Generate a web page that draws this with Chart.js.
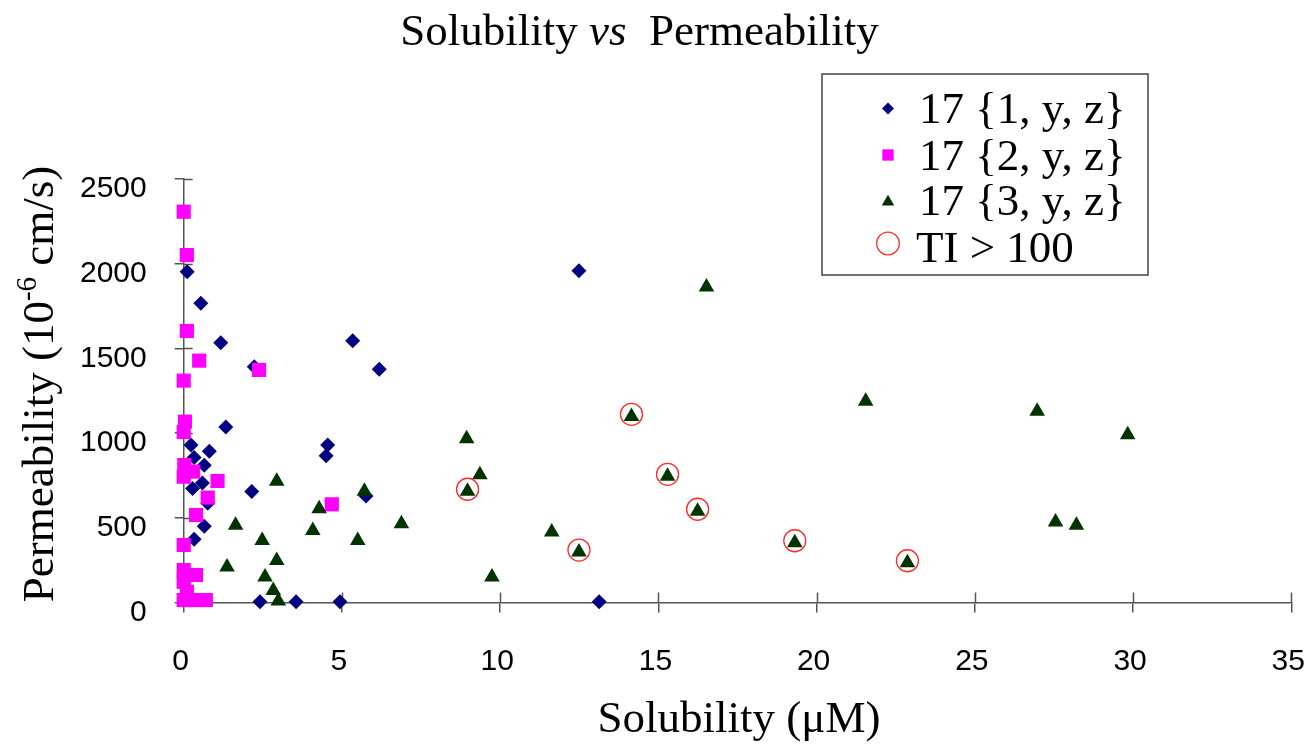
<!DOCTYPE html>
<html><head><meta charset="utf-8">
<script src="https://cdn.jsdelivr.net/npm/chart.js@4.4.1/dist/chart.umd.min.js"></script>
<style>html,body{margin:0;padding:0;background:#fff;}canvas{display:block;}</style>
</head><body>
<canvas id="c" width="1309" height="745"></canvas>
<script>
// ---- text ----
const titleParts = ["Solubility ", "vs", "  Permeability"];
const xTitle = "Solubility (\u03BCM)";
const yTitleParts = ["Permeability (10", "-6", " cm/s)"];
const seriesLabels = ["17 {1, y, z}", "17 {2, y, z}", "17 {3, y, z}", "TI > 100"];

// ---- ticks ----
const xTicks = [0, 5, 10, 15, 20, 25, 30, 35];
const yTicks = [0, 500, 1000, 1500, 2000, 2500];

// ---- series 17 {1, y, z} ----
const s1x = [0.11, 0.54, 1.17, 2.23, 5.34, 6.18, 12.49, 1.33, 0.23, 0.81, 0.33, 0.65, 0.59, 0.28, 2.15, 0.76, 0.65, 0.33, 4.55, 4.50, 5.76, 2.41, 3.55, 4.94, 13.13];
const s1y = [1953, 1766, 1534, 1392, 1546, 1377, 1959, 1036, 930, 893, 857, 810, 706, 674, 655, 586, 450, 374, 930, 867, 629, 5, 5, 5, 5];

// ---- series 17 {2, y, z} ----
const s2x = [0.00, 0.10, 0.10, 0.49, 2.38, 0.00, 0.04, 0.00, 0.02, 0.30, 0.00, 1.07, 0.76, 0.39, 0.00, 0.00, 0.39, 0.00, 0.10, 0.00, 0.36, 0.70, 4.68];
const s2y = [2307, 2051, 1603, 1428, 1373, 1310, 1068, 1007, 812, 773, 743, 718, 620, 517, 340, 192, 163, 123, 64, 15, 15, 15, 580];

// ---- series 17 {3, y, z} ----
const s3x = [2.94, 1.64, 2.48, 2.94, 1.37, 2.57, 2.83, 2.99, 5.71, 4.28, 4.08, 6.88, 5.50, 8.94, 9.36, 8.97, 11.63, 12.49, 9.74, 14.15, 15.29, 16.24, 16.52, 21.55, 19.31, 22.87, 26.97, 29.83, 27.55, 28.21];
const s3y = [716, 456, 367, 249, 210, 151, 72, 10, 657, 554, 426, 466, 367, 967, 755, 657, 416, 298, 151, 1099, 745, 539, 1862, 1188, 353, 235, 1129, 991, 475, 456];

// ---- TI > 100 (circled points) ----
const tix = [8.97, 12.49, 14.15, 15.29, 16.24, 19.31, 22.87];
const tiy = [669, 310, 1111, 757, 551, 365, 247];

const SERIF = '"Liberation Serif", "Times New Roman", serif';
const SANS = '"Liberation Sans", Arial, sans-serif';
const AXIS_COLOR = '#555';

function pts(xs, ys) { return xs.map((x, i) => ({x: x, y: ys[i]})); }

function drawMarker(ctx, style, x, y, r, fill, stroke, lw) {
  ctx.save();
  ctx.beginPath();
  if (style === 'rectRot') {
    ctx.moveTo(x - r, y); ctx.lineTo(x, y - r); ctx.lineTo(x + r, y); ctx.lineTo(x, y + r); ctx.closePath();
  } else if (style === 'rect') {
    const s = r * Math.SQRT1_2; ctx.rect(x - s, y - s, 2 * s, 2 * s);
  } else if (style === 'triangle') {
    let a = 0;
    ctx.moveTo(x + Math.sin(a) * r, y - Math.cos(a) * r);
    a += 2 * Math.PI / 3; ctx.lineTo(x + Math.sin(a) * r, y - Math.cos(a) * r);
    a += 2 * Math.PI / 3; ctx.lineTo(x + Math.sin(a) * r, y - Math.cos(a) * r);
    ctx.closePath();
  } else {
    ctx.arc(x, y, r, 0, Math.PI * 2);
  }
  if (fill) { ctx.fillStyle = fill; ctx.fill(); }
  if (stroke && lw) { ctx.strokeStyle = stroke; ctx.lineWidth = lw; ctx.stroke(); }
  ctx.restore();
}

const decor = {
  id: 'decor',
  beforeDatasetsDraw(chart) {
    const ctx = chart.ctx, xs = chart.scales.x, ys = chart.scales.y;
    ctx.save();
    ctx.strokeStyle = AXIS_COLOR; ctx.lineWidth = 1.5;
    ctx.beginPath();
    xs.ticks.forEach(t => { const p = Math.round(xs.getPixelForValue(t.value)) + 0.5; ctx.moveTo(p, ys.bottom); ctx.lineTo(p, ys.bottom - 10); });
    ys.ticks.forEach(t => { const p = Math.round(ys.getPixelForValue(t.value)) + 0.5; ctx.moveTo(xs.left, p); ctx.lineTo(xs.left + 9, p); });
    ctx.stroke();
    ctx.restore();
  },
  afterDraw(chart) {
    const ctx = chart.ctx;
    ctx.save();
    ctx.fillStyle = '#000';
    ctx.textBaseline = 'alphabetic';
    // Title with italic "vs"
    const fN = '45px ' + SERIF, fI = 'italic 45px ' + SERIF;
    ctx.font = fN; const w0 = ctx.measureText(titleParts[0]).width, w2 = ctx.measureText(titleParts[2]).width;
    ctx.font = fI; const w1 = ctx.measureText(titleParts[1]).width;
    let tx = 639.5 - (w0 + w1 + w2) / 2;
    ctx.textAlign = 'left';
    ctx.font = fN; ctx.fillText(titleParts[0], tx, 45);
    ctx.font = fI; ctx.fillText(titleParts[1], tx + w0, 45);
    ctx.font = fN; ctx.fillText(titleParts[2], tx + w0 + w1, 45);
    // X axis title
    ctx.font = fN; ctx.textAlign = 'center';
    ctx.fillText(xTitle, 739, 732);
    // Y axis title (rotated, with superscript)
    ctx.save();
    ctx.translate(53, 384);
    ctx.rotate(-Math.PI / 2);
    ctx.textAlign = 'left';
    const fS = '29px ' + SERIF;
    ctx.font = fN; const a0 = ctx.measureText(yTitleParts[0]).width, a2 = ctx.measureText(yTitleParts[2]).width;
    ctx.font = fS; const a1 = ctx.measureText(yTitleParts[1]).width;
    let sx = -(a0 + a1 + a2) / 2;
    ctx.font = fN; ctx.fillText(yTitleParts[0], sx, 0);
    ctx.font = fS; ctx.fillText(yTitleParts[1], sx + a0, -17);
    ctx.font = fN; ctx.fillText(yTitleParts[2], sx + a0 + a1, 0);
    ctx.restore();
    // Legend
    const L = {x: 822, y: 74, w: 326, h: 201};
    ctx.fillStyle = '#fff';
    ctx.fillRect(L.x, L.y, L.w, L.h);
    ctx.strokeStyle = '#444'; ctx.lineWidth = 1.5;
    ctx.strokeRect(L.x, L.y, L.w, L.h);
    const rows = [123, 169.5, 215, 261.5];
    const mY = [108.5, 155, 202, 243.5];
    chart.data.datasets.forEach((ds, i) => {
      const lr = i === 3 ? 11.3 : ds.pointRadius * 0.8;
      drawMarker(ctx, ds.pointStyle, 888, mY[i], lr,
        i === 3 ? null : ds.backgroundColor, ds.borderColor, i === 3 ? ds.borderWidth : 0);
      ctx.fillStyle = '#000'; ctx.font = fN; ctx.textAlign = 'left';
      ctx.fillText(ds.label, i === 3 ? 916 : 919, rows[i]);
    });
    ctx.restore();
  }
};

new Chart(document.getElementById('c'), {
  type: 'scatter',
  data: {
    datasets: [
      {label: seriesLabels[0], data: pts(s1x, s1y), pointStyle: 'rectRot', pointRadius: 7.5,
       backgroundColor: '#000080', borderColor: '#000080', borderWidth: 0, order: 4, clip: false},
      {label: seriesLabels[1], data: pts(s2x, s2y), pointStyle: 'rect', pointRadius: 10,
       backgroundColor: '#FF00FF', borderColor: '#FF00FF', borderWidth: 0, order: 3, clip: false},
      {label: seriesLabels[2], data: pts(s3x, s3y), pointStyle: 'triangle', pointRadius: 9,
       backgroundColor: '#003300', borderColor: '#003300', borderWidth: 0, order: 2, clip: false},
      {label: seriesLabels[3], data: pts(tix, tiy), pointStyle: 'circle', pointRadius: 11,
       backgroundColor: 'rgba(0,0,0,0)', borderColor: '#ff2a2a', borderWidth: 1.3, order: 1, clip: false}
    ]
  },
  options: {
    responsive: false,
    animation: false,
    events: [],
    devicePixelRatio: 1,
    layout: {padding: {top: 179, right: 17.7, left: 0, bottom: 0}},
    plugins: {legend: {display: false}, title: {display: false}, tooltip: {enabled: false}},
    scales: {
      x: {
        type: 'linear', min: xTicks[0], max: xTicks[xTicks.length - 1],
        afterFit: s => { s.height = 142.4; s.paddingLeft = 0; s.paddingRight = 0; },
        afterBuildTicks: s => { s.ticks = xTicks.map(v => ({value: v})); },
        grid: {drawOnChartArea: false, drawTicks: true, tickLength: 10, color: AXIS_COLOR, lineWidth: 1.5},
        border: {display: true, color: AXIS_COLOR, width: 1.5},
        ticks: {font: {family: SANS, size: 30}, color: '#000', padding: 31, labelOffset: -3, maxRotation: 0, autoSkip: false,
                callback: v => String(v)}
      },
      y: {
        type: 'linear', min: yTicks[0], max: yTicks[yTicks.length - 1],
        afterFit: s => { s.width = 183.7; s.paddingTop = 0; s.paddingBottom = 0; },
        afterBuildTicks: s => { s.ticks = yTicks.map(v => ({value: v})); },
        grid: {drawOnChartArea: false, drawTicks: true, tickLength: 9, color: AXIS_COLOR, lineWidth: 1.5},
        border: {display: true, color: AXIS_COLOR, width: 1.5},
        ticks: {font: {family: SANS, size: 30}, color: '#000', padding: 28, labelOffset: 10, autoSkip: false,
                callback: v => String(v)}
      }
    }
  },
  plugins: [decor]
});
</script>
</body></html>
